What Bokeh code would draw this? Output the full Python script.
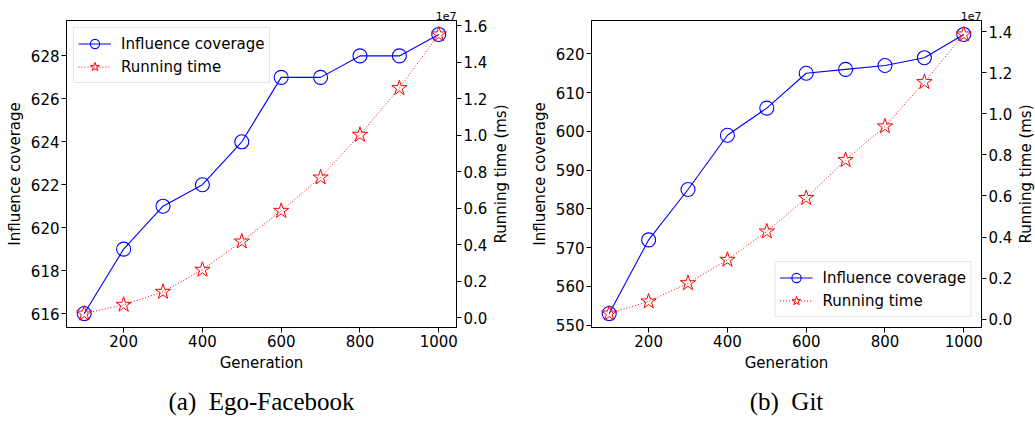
import math
from bokeh.plotting import figure
from bokeh.models import (Range1d, LinearAxis, FixedTicker, Legend, LegendItem,
                          Title, CustomJSTickFormatter)
from bokeh.core.properties import value
from bokeh.layouts import row
from bokeh.embed import file_html
from bokeh.resources import INLINE

generation = [100, 200, 300, 400, 500, 600, 700, 800, 900, 1000]
ego_coverage = [616, 619, 621, 622, 624, 627, 627, 628, 628, 629]
ego_runtime_ms = [220000, 700000, 1410000, 2620000, 4170000, 5850000,
                  7680000, 10020000, 12580000, 15520000]
git_coverage = [553, 572, 585, 599, 606, 615, 616, 617, 619, 625]
git_runtime_ms = [270000, 860000, 1750000, 2890000, 4270000, 5900000,
                  7750000, 9390000, 11550000, 13870000]

x_ticks = [200, 400, 600, 800, 1000]
ego_cov_ticks = [616, 618, 620, 622, 624, 626, 628]
ego_rt_ticks = [0, 2e6, 4e6, 6e6, 8e6, 1e7, 1.2e7, 1.4e7, 1.6e7]
git_cov_ticks = [550, 560, 570, 580, 590, 600, 610, 620]
git_rt_ticks = [0, 2e6, 4e6, 6e6, 8e6, 1e7, 1.2e7, 1.4e7]

FONT = "DejaVu Sans"
TOP, BOTTOM = 20, 100


def padded(vals):
    lo, hi = min(vals), max(vals)
    m = 0.05 * (hi - lo)
    return lo - m, hi + m


def style_axis(ax):
    ax.axis_line_color = "black"
    ax.major_tick_line_color = "black"
    ax.major_tick_in = 0
    ax.major_tick_out = 5
    ax.minor_tick_line_color = None
    ax.major_label_text_font = FONT
    ax.major_label_text_font_size = "15px"
    ax.major_label_text_color = "black"
    ax.major_label_standoff = 2
    ax.axis_label_text_font = FONT
    ax.axis_label_text_font_size = "15px"
    ax.axis_label_text_font_style = "normal"
    ax.axis_label_text_color = "black"
    ax.axis_label_standoff = 4


def make_panel(coverage, runtime, cov_ticks, rt_ticks, caption, legend_loc,
               legend_margin, width, mb_left, mb_right):
    x0, x1 = padded(generation)
    c0, c1 = padded(coverage)
    r0, r1 = padded(runtime)
    p = figure(width=width, height=427, output_backend="svg",
               toolbar_location=None, x_range=Range1d(x0, x1),
               y_range=Range1d(c0, c1),
               min_border_left=mb_left, min_border_right=mb_right,
               min_border_top=TOP, min_border_bottom=BOTTOM)
    p.extra_y_ranges = {"rt": Range1d(r0, r1)}
    p.grid.visible = False
    p.outline_line_color = "black"
    p.outline_line_alpha = 1
    p.outline_line_width = 1
    p.background_fill_color = "white"
    p.border_fill_color = "white"

    p.xaxis.ticker = FixedTicker(ticks=x_ticks)
    p.xaxis.axis_label = "Generation"
    p.yaxis.ticker = FixedTicker(ticks=cov_ticks)
    p.yaxis.axis_label = "Influence coverage"
    style_axis(p.xaxis[0])
    style_axis(p.yaxis[0])

    rax = LinearAxis(y_range_name="rt",
                     ticker=FixedTicker(ticks=rt_ticks),
                     formatter=CustomJSTickFormatter(code="return (tick/1e7).toFixed(1);"))
    style_axis(rax)
    p.add_layout(rax, "right")

    l1 = p.line(generation, coverage, line_color="blue", line_width=1.1)
    s1 = p.scatter(generation, coverage, marker="circle", size=14,
                   fill_color=None, line_color="blue", line_width=1.1)
    l2 = p.line(generation, runtime, y_range_name="rt", line_color="red",
                line_width=1, line_dash="1 2")
    s2 = p.scatter(generation, runtime, y_range_name="rt", marker="star",
                   size=16, fill_color=None, line_color="red", line_width=1)

    legend = Legend(items=[LegendItem(label="Influence coverage", renderers=[l1, s1]),
                           LegendItem(label="Running time", renderers=[l2, s2])],
                    location=legend_loc, margin=legend_margin,
                    label_text_font=FONT, label_text_font_size="15px",
                    label_text_color="black",
                    glyph_width=33, glyph_height=23, label_height=23,
                    label_standoff=10, spacing=0, padding=4,
                    border_line_color="#cccccc", border_line_width=1,
                    background_fill_color="white", background_fill_alpha=0.8)
    p.add_layout(legend)

    p.add_layout(Title(text="1e7", align="right", text_font=FONT,
                       text_font_size="11px", text_font_style="normal",
                       text_color="black", standoff=2, offset=0), "above")

    p.add_layout(Title(text=caption, align="center", text_font="Liberation Serif",
                       text_font_size="25px", text_font_style="normal",
                       text_color="black", standoff=23), "below")
    return p


def side_label(text, width, xpos):
    s = figure(width=width, height=427, output_backend="svg",
               toolbar_location=None, x_range=Range1d(0, width),
               y_range=Range1d(0, 1), x_axis_type=None, y_axis_type=None,
               min_border_left=0, min_border_right=0,
               min_border_top=TOP, min_border_bottom=BOTTOM)
    s.grid.visible = False
    s.outline_line_color = None
    s.text(x=[xpos], y=[0.5], text=[text], angle=math.pi / 2,
           text_align="center", text_baseline="middle",
           text_font=value(FONT), text_font_size=value("15px"),
           text_color="black")
    return s


p1 = make_panel(ego_coverage, ego_runtime_ms, ego_cov_ticks, ego_rt_ticks,
                "(a)\u2002Ego-Facebook", "top_left", 7, 490, 66, 33)
lab1 = side_label("Running time (ms)", 27, 10)
p2 = make_panel(git_coverage, git_runtime_ms, git_cov_ticks, git_rt_ticks,
                "(b)\u2002Git", "bottom_right", 10, 498, 74, 33)
lab2 = side_label("Running time (ms)", 20, 10)

layout = row(p1, lab1, p2, lab2)
open("out.html", "w").write(file_html(layout, INLINE))
